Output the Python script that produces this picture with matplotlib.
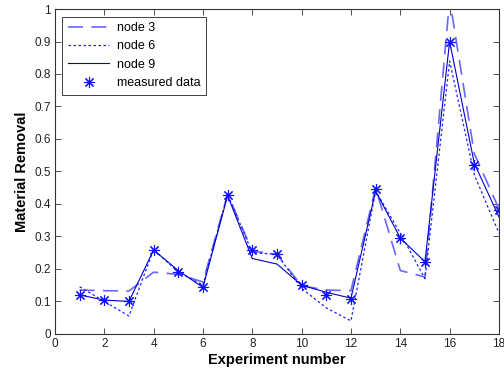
import matplotlib
matplotlib.use("Agg")
import matplotlib.pyplot as plt

plt.rcParams['font.family'] = ['Liberation Sans', 'DejaVu Sans']

experiments = list(range(1, 19))
measured = [0.12, 0.104, 0.10, 0.258, 0.19, 0.143, 0.426, 0.257, 0.245,
            0.15, 0.12, 0.107, 0.445, 0.295, 0.222, 0.90, 0.52, 0.38]
node3 = [0.135, 0.133, 0.132, 0.19, 0.183, 0.16, 0.43, 0.255, 0.245,
         0.148, 0.135, 0.133, 0.45, 0.195, 0.175, 1.03, 0.555, 0.385]
node6 = [0.145, 0.10, 0.055, 0.26, 0.19, 0.15, 0.43, 0.25, 0.245,
         0.14, 0.08, 0.04, 0.44, 0.31, 0.17, 0.84, 0.49, 0.31]
node9 = [0.12, 0.104, 0.10, 0.258, 0.195, 0.143, 0.426, 0.232, 0.215,
         0.15, 0.128, 0.11, 0.44, 0.295, 0.222, 0.90, 0.525, 0.36]

fig = plt.figure(figsize=(5.04, 3.76), dpi=100)
ax = fig.add_axes([0.109, 0.112, 0.881, 0.864])

ax.plot(experiments, node3, color='#6868ff', linewidth=1.2, dashes=(9, 5), label='node 3')
ax.plot(experiments, node6, color='#2020ff', linewidth=0.9, linestyle=(0, (2, 2)), label='node 6')
ax.plot(experiments, node9, color='#0000cc', linewidth=0.8, label='node 9')
# MATLAB-style asterisk marker
ax.plot(experiments, measured, linestyle='none', marker=(8, 2, 0), color='#1010ff',
        markersize=8, markeredgewidth=0.8, label='measured data')

ax.set_xlim(0, 18)
ax.set_ylim(0, 1)
ax.set_xticks(range(0, 19, 2))
ax.set_yticks([i / 10 for i in range(11)])
ax.set_yticklabels(['0', '0.1', '0.2', '0.3', '0.4', '0.5', '0.6', '0.7', '0.8', '0.9', '1'])
ax.tick_params(direction='in', top=True, right=True, labelsize=8.5, length=4,
               width=0.6, colors='#333333', labelcolor='#222222', pad=3)
for spine in ax.spines.values():
    spine.set_linewidth(0.8)
    spine.set_color('#333333')

ax.set_xlabel('Experiment number', fontsize=10.5, fontweight='bold', labelpad=2)
ax.set_ylabel('Material Removal', fontsize=10.5, fontweight='bold', labelpad=4)

leg = ax.legend(loc='upper left', fontsize=9, handlelength=3.3, fancybox=False,
                framealpha=1, edgecolor='#222222', borderpad=0.45, labelspacing=0.5,
                borderaxespad=0.6, handletextpad=0.6)
leg.get_frame().set_linewidth(0.6)

fig.savefig('out.png', dpi=100)
